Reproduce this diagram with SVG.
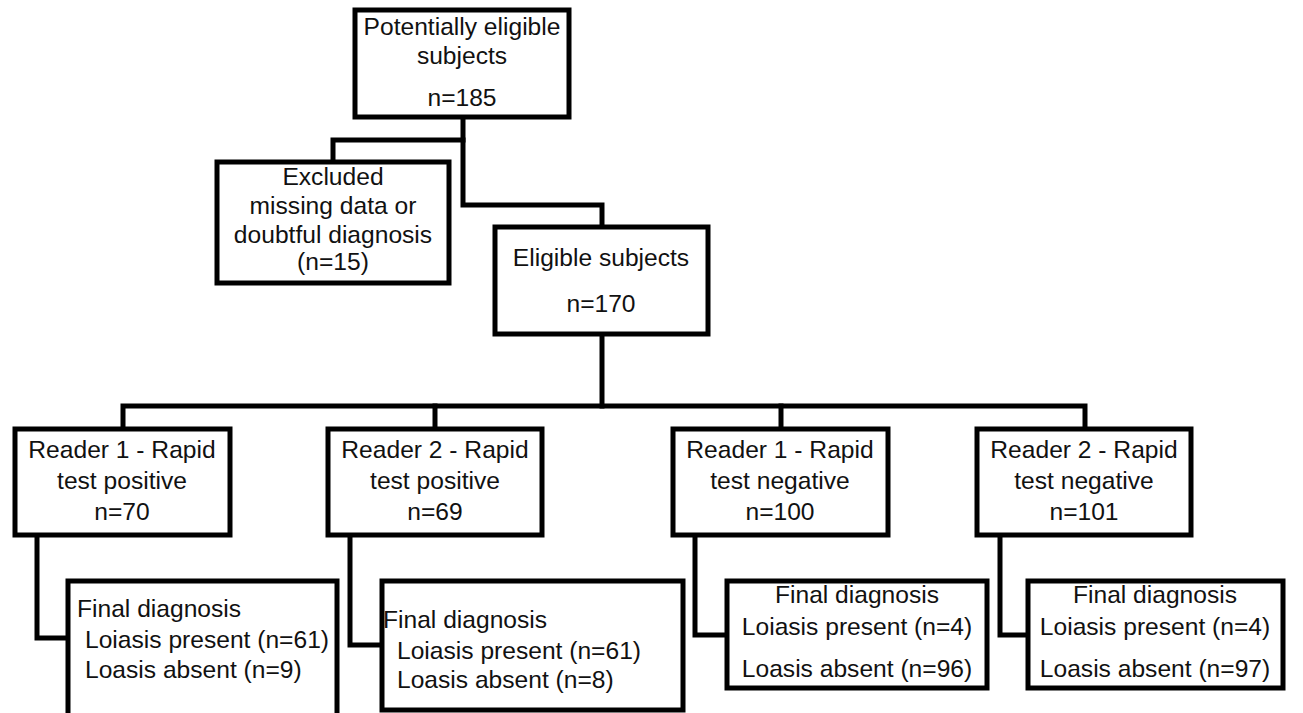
<svg xmlns="http://www.w3.org/2000/svg" width="1303" height="713" viewBox="0 0 1303 713">
<style>
.box{fill:#fff;stroke:#000;stroke-width:5;stroke-linejoin:miter}
.con{fill:none;stroke:#000;stroke-width:5;stroke-linejoin:miter;stroke-linecap:square}
text{font-family:"Liberation Sans",Arial,sans-serif;font-size:24.6px;fill:#111}
.c{text-anchor:middle}
</style>
<rect width="1303" height="713" fill="#fff"/>
<g id="connectors">
<path class="con" d="M463,117 V205 H602 V227"/>
<path class="con" d="M463,140 H333 V162"/>
<path class="con" d="M602,334 V406"/>
<path class="con" d="M123,429 V406 H1085 V429"/>
<path class="con" d="M435,406 V429"/>
<path class="con" d="M781,406 V429"/>
<path class="con" d="M37,535 V638 H68"/>
<path class="con" d="M350,535 V645 H382"/>
<path class="con" d="M695,535 V635 H727"/>
<path class="con" d="M1000,535 V635 H1028"/>
</g>
<g id="potentially-eligible">
<rect class="box" x="355" y="10" width="214" height="107"/>
<text class="c" x="462" y="35">Potentially eligible</text>
<text class="c" x="462" y="64">subjects</text>
<text class="c" x="462" y="106">n=185</text>
</g>
<g id="excluded">
<rect class="box" x="217" y="162" width="232" height="121"/>
<text class="c" x="333" y="185">Excluded</text>
<text class="c" x="333" y="214">missing data or</text>
<text class="c" x="333" y="243">doubtful diagnosis</text>
<text class="c" x="333" y="270">(n=15)</text>
</g>
<g id="eligible">
<rect class="box" x="495" y="227" width="213" height="107"/>
<text class="c" x="601" y="266">Eligible subjects</text>
<text class="c" x="601" y="312">n=170</text>
</g>
<g id="r1-pos">
<rect class="box" x="15" y="429" width="215" height="106"/>
<text class="c" x="122" y="458">Reader 1 - Rapid</text>
<text class="c" x="122" y="489">test positive</text>
<text class="c" x="122" y="520">n=70</text>
</g>
<g id="r2-pos">
<rect class="box" x="328" y="429" width="214" height="106"/>
<text class="c" x="435" y="458">Reader 2 - Rapid</text>
<text class="c" x="435" y="489">test positive</text>
<text class="c" x="435" y="520">n=69</text>
</g>
<g id="r1-neg">
<rect class="box" x="673" y="429" width="215" height="106"/>
<text class="c" x="780" y="458">Reader 1 - Rapid</text>
<text class="c" x="780" y="489">test negative</text>
<text class="c" x="780" y="520">n=100</text>
</g>
<g id="r2-neg">
<rect class="box" x="977" y="429" width="214" height="106"/>
<text class="c" x="1084" y="458">Reader 2 - Rapid</text>
<text class="c" x="1084" y="489">test negative</text>
<text class="c" x="1084" y="520">n=101</text>
</g>
<g id="fd1">
<rect class="box" x="68" y="581" width="269" height="140"/>
<text x="77" y="617">Final diagnosis</text>
<text x="85" y="648">Loiasis present (n=61)</text>
<text x="85" y="678">Loasis absent (n=9)</text>
</g>
<g id="fd2">
<rect class="box" x="382" y="581" width="301" height="129"/>
<text x="383" y="628">Final diagnosis</text>
<text x="397" y="659">Loiasis present (n=61)</text>
<text x="397" y="688">Loasis absent (n=8)</text>
</g>
<g id="fd3">
<rect class="box" x="727" y="581" width="260" height="107"/>
<text class="c" x="857" y="603">Final diagnosis</text>
<text class="c" x="857" y="635">Loiasis present (n=4)</text>
<text class="c" x="857" y="677">Loasis absent (n=96)</text>
</g>
<g id="fd4">
<rect class="box" x="1028" y="581" width="255" height="107"/>
<text class="c" x="1155" y="603">Final diagnosis</text>
<text class="c" x="1155" y="635">Loiasis present (n=4)</text>
<text class="c" x="1155" y="677">Loasis absent (n=97)</text>
</g>
</svg>
